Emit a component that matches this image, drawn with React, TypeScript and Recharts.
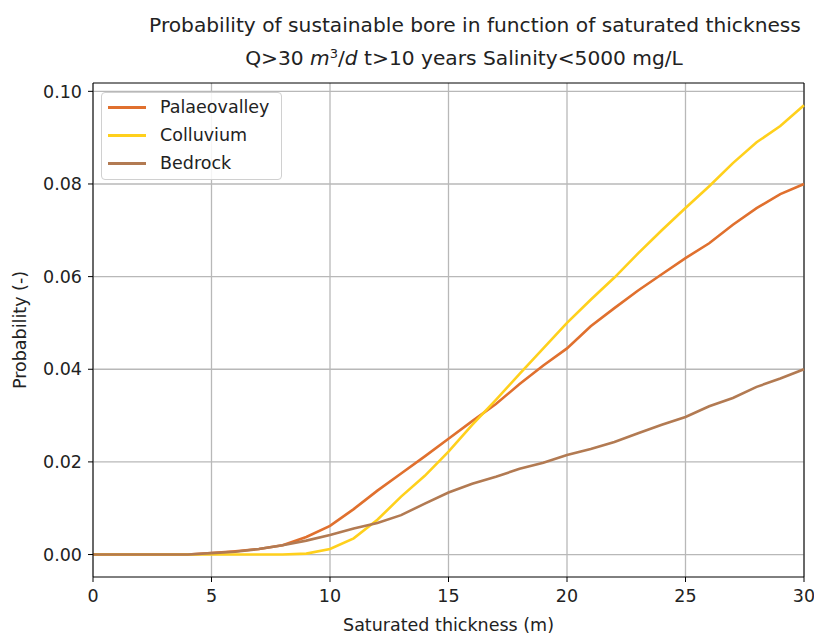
import { LineChart, Line, XAxis, YAxis, CartesianGrid, ReferenceLine } from "recharts";

// Saturated thickness (m)
const thickness = [0, 1, 2, 3, 4, 5, 6, 7, 8, 9, 10, 11, 12, 13, 14, 15, 16, 17, 18, 19, 20, 21, 22, 23, 24, 25, 26, 27, 28, 29, 30];

const palaeovalley = [0, 0, 0, 0, 0, 0.0003, 0.0007, 0.0012, 0.002, 0.0038, 0.0062, 0.0098, 0.0138, 0.0175, 0.0212, 0.025, 0.0288, 0.0325, 0.0368, 0.0408, 0.0445, 0.0493, 0.0532, 0.057, 0.0605, 0.064, 0.0672, 0.0712, 0.0748, 0.0778, 0.08];
const colluvium = [0, 0, 0, 0, 0, 0, 0, 0, 0, 0.0002, 0.0012, 0.0035, 0.0075, 0.0125, 0.017, 0.0222, 0.028, 0.0334, 0.039, 0.0445, 0.05, 0.055, 0.0598, 0.065, 0.07, 0.0748, 0.0795, 0.0845, 0.089, 0.0925, 0.097];
const bedrock = [0, 0, 0, 0, 0, 0.0003, 0.0006, 0.0012, 0.002, 0.003, 0.0042, 0.0056, 0.0068, 0.0085, 0.011, 0.0134, 0.0153, 0.0168, 0.0185, 0.0198, 0.0215, 0.0228, 0.0243, 0.0262, 0.028, 0.0297, 0.032, 0.0338, 0.0362, 0.038, 0.04];

const xTicks = [0, 5, 10, 15, 20, 25, 30];
const yTicks = [0, 0.02, 0.04, 0.06, 0.08, 0.1];
const yDomain = [-0.00485, 0.1018];

const series = [
  { key: "palaeovalley", name: "Palaeovalley", color: "#e0702e" },
  { key: "colluvium", name: "Colluvium", color: "#ffd01c" },
  { key: "bedrock", name: "Bedrock", color: "#b27a52" },
];

const data = thickness.map((t, i) => ({
  t,
  palaeovalley: palaeovalley[i],
  colluvium: colluvium[i],
  bedrock: bedrock[i],
}));

const font = "'DejaVu Sans', sans-serif";
const textColor = "#222";

export default function App() {
  return (
    <div style={{ position: "absolute", left: 0, top: 0, width: 814, height: 635, background: "#fff" }}>
      <LineChart
        width={814}
        height={635}
        data={data}
        margin={{ top: 83, right: 10, left: 0, bottom: 0 }}
        style={{ position: "absolute", left: 0, top: 0 }}
      >
        <CartesianGrid stroke="#b8b8b8" strokeWidth={1.3} horizontalValues={yTicks} verticalValues={xTicks} />
        <XAxis
          dataKey="t"
          type="number"
          domain={[0, 30]}
          ticks={xTicks}
          height={58}
          stroke="#000"
          tickSize={5}
          tickMargin={8}
          tick={{ fill: textColor, fontSize: 17.5, fontFamily: font }}
          label={{ value: "Saturated thickness (m)", position: "center", dy: 19, fill: textColor, fontSize: 17.5, fontFamily: font }}
        />
        <YAxis
          type="number"
          domain={yDomain}
          allowDataOverflow
          ticks={yTicks}
          width={93}
          stroke="#000"
          tickSize={5}
          tickMargin={6}
          tickFormatter={(v: number) => v.toFixed(2)}
          tick={{ fill: textColor, fontSize: 17.5, fontFamily: font }}
          label={{ value: "Probability (-)", angle: -90, position: "center", dx: -27, fill: textColor, fontSize: 17.5, fontFamily: font }}
        />
        <ReferenceLine y={yDomain[1]} stroke="#000" strokeWidth={1} ifOverflow="visible" />
        <ReferenceLine x={30} stroke="#000" strokeWidth={1} ifOverflow="visible" />
        {series.map((s) => (
          <Line
            key={s.key}
            dataKey={s.key}
            name={s.name}
            stroke={s.color}
            strokeWidth={2.6}
            dot={false}
            type="linear"
            isAnimationActive={false}
          />
        ))}
      </LineChart>

      {/* title */}
      <div
        style={{
          position: "absolute",
          left: 0,
          width: 950,
          top: 9,
          textAlign: "center",
          fontFamily: font,
          fontSize: 20.2,
          color: textColor,
          lineHeight: "33px",
          whiteSpace: "nowrap",
        }}
      >
        <div>Probability of sustainable bore in function of saturated thickness</div>
        <div style={{ marginLeft: -22 }}>
          Q&gt;30 <i>m</i>
          <sup style={{ fontSize: 13, verticalAlign: "7px", lineHeight: 0 }}>3</sup>/<i>d</i> t&gt;10 years Salinity&lt;5000 mg/L
        </div>
      </div>

      {/* legend */}
      <div
        style={{
          position: "absolute",
          left: 101,
          top: 92,
          width: 181,
          height: 88,
          border: "1px solid #d0d0d0",
          borderRadius: 4,
          background: "rgba(255,255,255,0.85)",
          fontFamily: font,
          fontSize: 17.5,
          color: textColor,
          boxSizing: "border-box",
        }}
      >
        {series.map((s) => (
          <div key={s.key} style={{ display: "flex", alignItems: "center", height: 28 }}>
            <div style={{ width: 38, height: 3, background: s.color, marginLeft: 6, marginRight: 14 }} />
            <span>{s.name}</span>
          </div>
        ))}
      </div>
    </div>
  );
}
